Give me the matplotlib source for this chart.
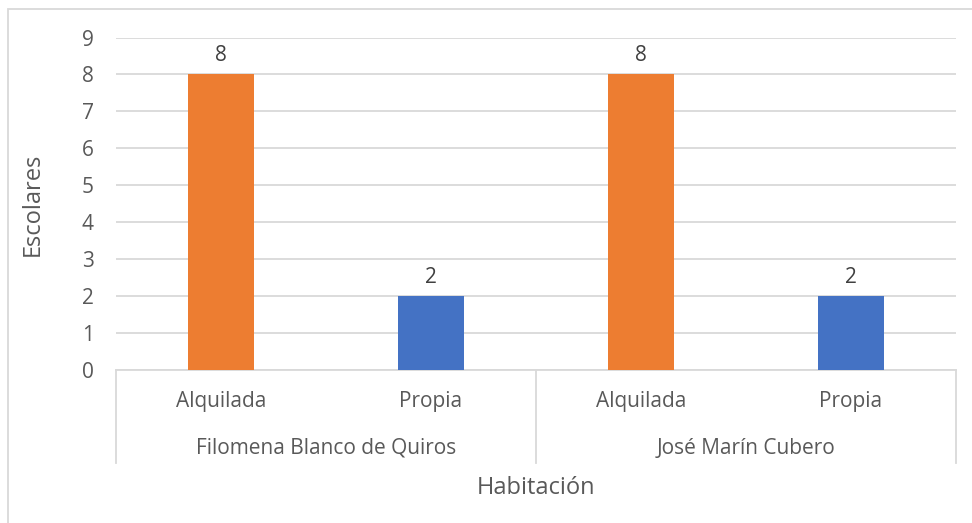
import matplotlib
matplotlib.use("Agg")
import matplotlib.pyplot as plt
from matplotlib.patches import Rectangle
from matplotlib.lines import Line2D

plt.rcParams['font.family'] = ['Open Sans', 'DejaVu Sans']

groups = ["Filomena Blanco de Quiros", "José Marín Cubero"]
subcats = ["Alquilada", "Propia"]
values = [8, 2, 8, 2]
bar_colors = ["#ED7D31", "#4472C4", "#ED7D31", "#4472C4"]
y_ticks = list(range(0, 10))

TEXT = "#595959"
GRID = "#D9D9D9"
W, H = 972, 523

fig = plt.figure(figsize=(W / 100, H / 100), dpi=100)
fig.patch.set_facecolor("white")

# chart frame
fig.add_artist(Rectangle((7.5 / W, -0.1), 1.2, 1 - 8.5 / H + 0.1, transform=fig.transFigure,
                         facecolor="none", edgecolor=GRID, linewidth=1.3))

left, right, bottom_px, top_px = 116, 956, 370, 37.5
ax = fig.add_axes([left / W, (H - bottom_px) / H, (right - left) / W, (bottom_px - top_px) / H])

n = len(values)
x = list(range(n))
ax.bar(x, values, width=0.314, color=bar_colors, zorder=3)
for xi, v in zip(x, values):
    ax.annotate(str(v), (xi, v), xytext=(0, 6), textcoords="offset points",
                ha="center", va="bottom", fontsize=15, color="#404040")

ax.set_xlim(-0.5, n - 0.5)
ax.set_ylim(0, 9)
ax.set_yticks(y_ticks)
ax.yaxis.grid(True, color=GRID, linewidth=1.3, zorder=0)
ax.set_axisbelow(True)
ax.tick_params(axis="y", length=0, labelsize=15, labelcolor=TEXT, pad=16)
ax.set_xticks([])
for s in ["top", "right", "left"]:
    ax.spines[s].set_visible(False)
ax.spines["bottom"].set_color(GRID)
ax.spines["bottom"].set_linewidth(1.3)

# multi-level category axis
trans = ax.get_xaxis_transform()
sep_len = (463 - bottom_px) / (bottom_px - top_px)
for xs in [-0.5, 1.5, 3.5]:
    ax.add_line(Line2D([xs, xs], [0, -sep_len], transform=trans, color=GRID,
                       linewidth=1.3, clip_on=False))
sub_y = -(402 - bottom_px) / (bottom_px - top_px)
grp_y = -(448 - bottom_px) / (bottom_px - top_px)
for i in range(n):
    ax.text(i, sub_y, subcats[i % 2], transform=trans, ha="center", va="center",
            fontsize=15, color=TEXT)
for g, name in enumerate(groups):
    ax.text(2 * g + 0.5, grp_y, name, transform=trans, ha="center", va="center",
            fontsize=15, color=TEXT)

fig.text(536 / W, 1 - 488 / H, "Habitación", ha="center", va="center", fontsize=17, color=TEXT)
fig.text(33 / W, 1 - 204 / H, "Escolares", ha="center", va="center", rotation=90,
         fontsize=17, color=TEXT)

fig.savefig("out.png", dpi=100, facecolor="white")
